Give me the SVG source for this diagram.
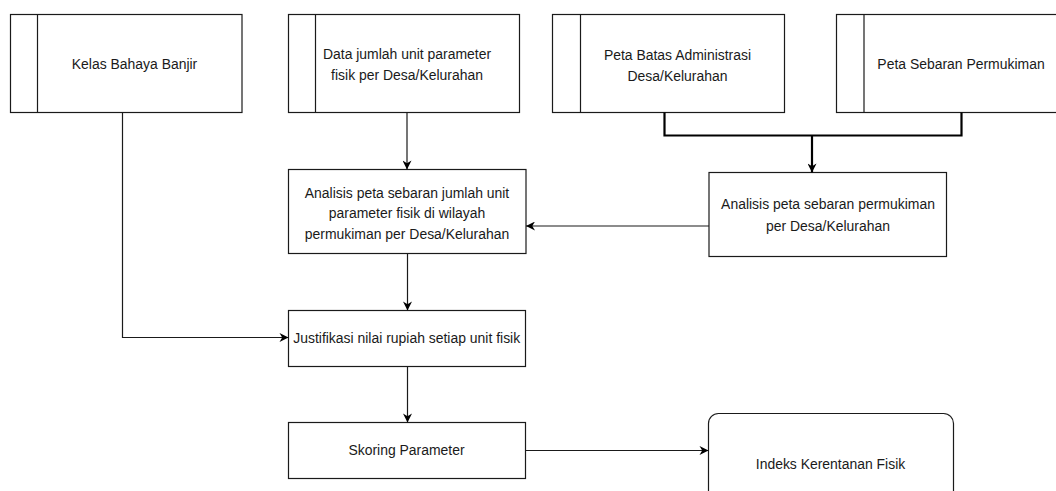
<svg xmlns="http://www.w3.org/2000/svg" width="1056" height="491" viewBox="0 0 1056 491">
<style>
.box{fill:#fff;stroke:#1a1a1a;stroke-width:1.2}
.bar{stroke:#1a1a1a;stroke-width:1.2;fill:none}
.lbl{font-family:"Liberation Sans",Arial,sans-serif;font-size:15px;fill:#1a1a1a;text-anchor:middle}
.edge{fill:none;stroke:#1a1a1a;stroke-width:1.2}
.thick{fill:none;stroke:#000;stroke-width:2.2}
</style>
<defs>
<marker id="arr" viewBox="0 0 10 10" refX="10" refY="5" markerWidth="10" markerHeight="9" markerUnits="userSpaceOnUse" orient="auto">
<path d="M0,0 L10,5 L0,10 L3,5 Z" fill="#000"/>
</marker>
</defs>
<rect width="1056" height="491" fill="#fff"/>
<g id="kelas">
<rect class="box" x="10.5" y="14.5" width="231.5" height="98"/>
<line class="bar" x1="37.5" y1="14.5" x2="37.5" y2="112.5"/>
<g transform="translate(134.5 0) scale(0.93 1)"><text class="lbl" x="0" y="69.5">Kelas Bahaya Banjir</text></g>
</g>
<g id="data">
<rect class="box" x="288.5" y="14.5" width="231" height="98"/>
<line class="bar" x1="315.5" y1="14.5" x2="315.5" y2="112.5"/>
<g transform="translate(407 0) scale(0.93 1)">
<text class="lbl" x="0" y="59.5">Data jumlah unit parameter</text>
<text class="lbl" x="0" y="80.5">fisik per Desa/Kelurahan</text>
</g>
</g>
<g id="petaBatas">
<rect class="box" x="552.5" y="14.5" width="232" height="98"/>
<line class="bar" x1="580.5" y1="14.5" x2="580.5" y2="112.5"/>
<g transform="translate(677.5 0) scale(0.93 1)">
<text class="lbl" x="0" y="60">Peta Batas Administrasi</text>
<text class="lbl" x="0" y="81">Desa/Kelurahan</text>
</g>
</g>
<g id="petaSebaran">
<rect class="box" x="836.5" y="14.5" width="232" height="98"/>
<line class="bar" x1="864" y1="14.5" x2="864" y2="112.5"/>
<g transform="translate(961 0) scale(0.93 1)"><text class="lbl" x="0" y="69.5">Peta Sebaran Permukiman</text></g>
</g>
<g id="analisisUnit">
<rect class="box" x="288.5" y="169.5" width="237.5" height="84"/>
<g transform="translate(407 0) scale(0.93 1)">
<text class="lbl" x="0" y="197.7">Analisis peta sebaran jumlah unit</text>
<text class="lbl" x="0" y="218.5">parameter fisik di wilayah</text>
<text class="lbl" x="0" y="239.3">permukiman per Desa/Kelurahan</text>
</g>
</g>
<g id="analisisPermukiman">
<rect class="box" x="709" y="172.5" width="237.5" height="84"/>
<g transform="translate(828 0) scale(0.93 1)">
<text class="lbl" x="0" y="209.3">Analisis peta sebaran permukiman</text>
<text class="lbl" x="0" y="231">per Desa/Kelurahan</text>
</g>
</g>
<g id="justifikasi">
<rect class="box" x="288.5" y="310.5" width="237" height="56"/>
<g transform="translate(406.7 0) scale(0.93 1)"><text class="lbl" x="0" y="343">Justifikasi nilai rupiah setiap unit fisik</text></g>
</g>
<g id="skoring">
<rect class="box" x="288.5" y="422.5" width="237" height="56"/>
<g transform="translate(406.5 0) scale(0.93 1)"><text class="lbl" x="0" y="455.3">Skoring Parameter</text></g>
</g>
<g id="indeks">
<rect class="box" x="708.5" y="413.5" width="245" height="104" rx="10" ry="10"/>
<g transform="translate(830.5 0) scale(0.93 1)"><text class="lbl" x="0" y="469.5">Indeks Kerentanan Fisik</text></g>
</g>
<g id="connectors">
<path class="edge" d="M407,112.5 V169.5" marker-end="url(#arr)"/>
<path class="edge" d="M407.5,253.5 V310.5" marker-end="url(#arr)"/>
<path class="edge" d="M407.5,366.5 V422.5" marker-end="url(#arr)"/>
<path class="edge" d="M122.5,112.5 V337.5 H288.5" marker-end="url(#arr)"/>
<path class="edge" d="M709,226 H526" marker-end="url(#arr)"/>
<path class="edge" d="M525.5,450.5 H708.5" marker-end="url(#arr)"/>
<path class="thick" d="M664.5,112.5 V135.5 H961.5 V112.5"/>
<path class="thick" d="M812,135.5 V172.5" marker-end="url(#arr)"/>
</g>
</svg>
